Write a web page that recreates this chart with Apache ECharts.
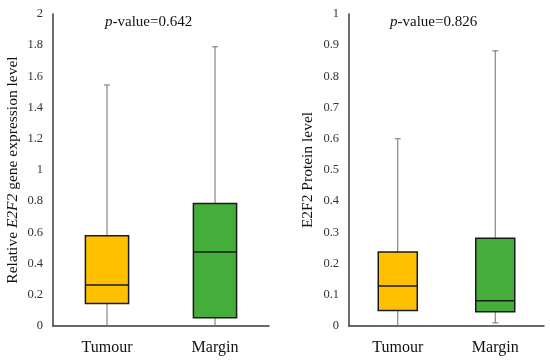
<!DOCTYPE html>
<html>
<head>
<meta charset="utf-8">
<script src="https://cdn.jsdelivr.net/npm/echarts@6/dist/echarts.min.js"></script>
<style>html,body{margin:0;padding:0;background:#fff}#c{width:550px;height:361px}</style>
</head>
<body>
<div id="c"></div>
<script>
// Data: [min, Q1, median, Q3, max]
const categories = ['Tumour', 'Margin'];
const geneTumour = [0, 0.145, 0.263, 0.579, 1.545];
const geneMargin = [0, 0.053, 0.474, 0.786, 1.79];
const protTumour = [0, 0.05, 0.128, 0.237, 0.6];
const protMargin = [0.01, 0.046, 0.081, 0.281, 0.882];
const pValues = ['0.642', '0.826'];
const boxColors = ['#FFC000', '#45AE3B'];

const FONT = 'Liberation Serif';
const chart = echarts.init(document.getElementById('c'));

function renderBox(params, api) {
  const idx = api.value(0);
  const mn = api.value(1), q1 = api.value(2), md = api.value(3), q3 = api.value(4), mx = api.value(5);
  const w = api.size([1, 0])[0] * 0.4;
  const cx = api.coord([idx, md])[0];
  const y = v => api.coord([idx, v])[1];
  const whisk = { stroke: '#707070', lineWidth: 1 };
  const capW = 3;
  const children = [
    { type: 'line', shape: { x1: cx, y1: y(mx), x2: cx, y2: y(q3) }, style: whisk },
    { type: 'line', shape: { x1: cx, y1: y(q1), x2: cx, y2: y(mn) }, style: whisk },
    { type: 'line', shape: { x1: cx - capW, y1: y(mx), x2: cx + capW, y2: y(mx) }, style: whisk }
  ];
  if (mn > 0) {
    children.push({ type: 'line', shape: { x1: cx - capW, y1: y(mn), x2: cx + capW, y2: y(mn) }, style: whisk });
  }
  children.push(
    { type: 'rect', shape: { x: cx - w / 2, y: y(q3), width: w, height: y(q1) - y(q3) },
      style: { fill: boxColors[idx], stroke: '#1a1a1a', lineWidth: 1.5 } },
    { type: 'line', shape: { x1: cx - w / 2, y1: y(md), x2: cx + w / 2, y2: y(md) },
      style: { stroke: '#1a1a1a', lineWidth: 1.5 } }
  );
  return { type: 'group', children };
}

const axisLine = { show: true, lineStyle: { color: '#3a3a3a', width: 1.5 } };
function yAxis(gridIndex, max, interval, nameParts, gap) {
  return {
    type: 'value', gridIndex, min: 0, max, interval,
    axisLine, axisTick: { show: false }, splitLine: { show: false },
    axisLabel: { fontFamily: FONT, fontSize: 12.5, color: '#333', margin: 10 },
    name: nameParts, nameLocation: 'middle', nameGap: gap,
    nameTextStyle: { fontFamily: FONT, fontSize: 15.5, color: '#111',
      rich: { i: { fontFamily: FONT, fontSize: 15.5, fontStyle: 'italic', color: '#111' } } }
  };
}
function xAxis(gridIndex) {
  return {
    type: 'category', gridIndex, data: categories,
    axisLine, axisTick: { show: false },
    axisLabel: { fontFamily: FONT, fontSize: 16, color: '#111', margin: 14 }
  };
}

chart.setOption({
  animation: false,
  grid: [
    { left: 53, right: 281, top: 14, bottom: 35 },
    { left: 349, right: 6, top: 14, bottom: 35 }
  ],
  xAxis: [xAxis(0), xAxis(1)],
  yAxis: [
    yAxis(0, 2, 0.2, 'Relative {i|E2F2} gene expression level', 32),
    yAxis(1, 1, 0.1, 'E2F2 Protein level', 33)
  ],
  graphic: [
    { type: 'text', left: 105, top: 15,
      style: { text: '{i|p}-value=' + pValues[0], fontFamily: FONT, fontSize: 15, fill: '#111',
        rich: { i: { fontFamily: FONT, fontSize: 15, fontStyle: 'italic', fill: '#111' } } } },
    { type: 'text', left: 390, top: 15,
      style: { text: '{i|p}-value=' + pValues[1], fontFamily: FONT, fontSize: 15, fill: '#111',
        rich: { i: { fontFamily: FONT, fontSize: 15, fontStyle: 'italic', fill: '#111' } } } }
  ],
  series: [
    { type: 'custom', xAxisIndex: 0, yAxisIndex: 0, renderItem: renderBox,
      encode: { x: 0, y: [1, 2, 3, 4, 5] },
      data: [[0, ...geneTumour], [1, ...geneMargin]] },
    { type: 'custom', xAxisIndex: 1, yAxisIndex: 1, renderItem: renderBox,
      encode: { x: 0, y: [1, 2, 3, 4, 5] },
      data: [[0, ...protTumour], [1, ...protMargin]] }
  ]
});
</script>
</body>
</html>
